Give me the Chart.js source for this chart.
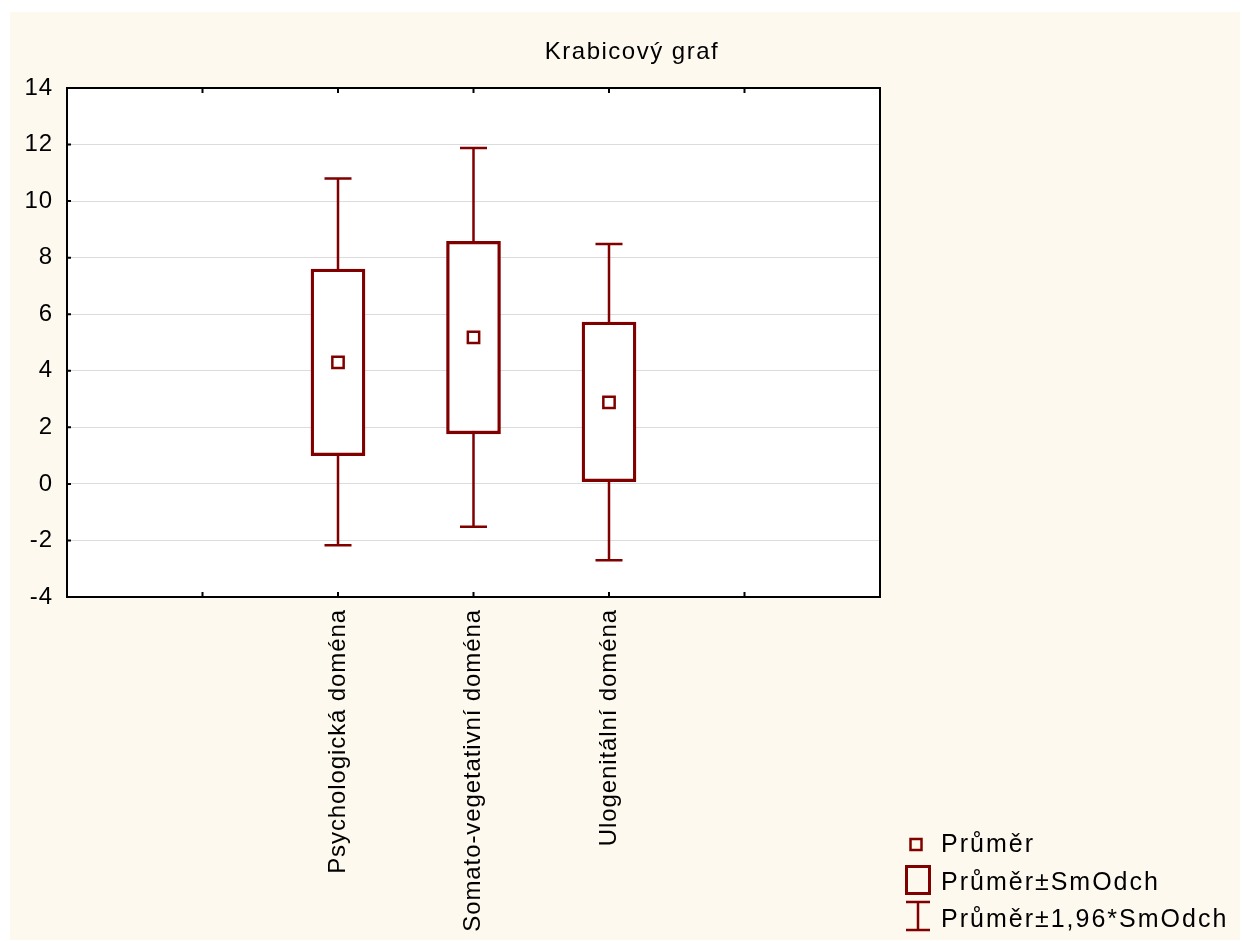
<!DOCTYPE html>
<html>
<head>
<meta charset="utf-8">
<script src="https://cdn.jsdelivr.net/npm/chart.js@4"></script>
<style>
  body { margin: 0; background: #ffffff; }
  #wrap { position: absolute; left: 10px; top: 12px; width: 1230px; height: 928px; background: #fdf9ef; }
</style>
</head>
<body>
<div id="wrap"><canvas id="boxChart" width="1230" height="928"></canvas></div>
<script>
const categories = ["Psychologická doména", "Somato-vegetativní doména", "Ulogenitální doména"];
const catPositions = [2, 3, 4];
const means = [4.3, 5.18, 2.88];
const boxLow = [1.0, 1.77, 0.08];
const boxHigh = [7.6, 8.58, 5.72];
const whiskLow = [-2.17, -1.52, -2.7];
const whiskHigh = [10.8, 11.88, 8.48];
const yTicks = [-4, -2, 0, 2, 4, 6, 8, 10, 12, 14];
const titleText = "Krabicový graf";
const legendLabels = ["Průměr", "Průměr±SmOdch", "Průměr±1,96*SmOdch"];

const dark = "#800000";
const font = "'Liberation Sans', Arial, sans-serif";

const boxData = catPositions.map((x, i) => ({ x: x, y: [boxLow[i], boxHigh[i]] }));
const meanData = catPositions.map((x, i) => ({ x: x, y: means[i] }));

// statistica-like letter spacing for the axis texts
const spacingPlugin = {
    id: "spacing",
    beforeInit(chart) { chart.ctx.letterSpacing = "0.9px"; },
    beforeDraw(chart) { chart.ctx.letterSpacing = "0.9px"; }
};

// whiskers, frame, inward ticks, title and legend
const decorPlugin = {
    id: "decor",
    beforeDraw(chart) {
        const { ctx, chartArea: a } = chart;
        ctx.save();
        ctx.fillStyle = "#ffffff";
        ctx.fillRect(a.left, a.top, a.right - a.left, a.bottom - a.top);
        ctx.restore();
    },
    beforeDatasetsDraw(chart) {
        const { ctx, scales } = chart;
        const xs = scales.x, ys = scales.y;
        ctx.save();
        ctx.strokeStyle = dark;
        ctx.lineWidth = 2.5;
        catPositions.forEach((p, i) => {
            const px = xs.getPixelForValue(p);
            const top = ys.getPixelForValue(whiskHigh[i]);
            const bot = ys.getPixelForValue(whiskLow[i]);
            ctx.beginPath();
            ctx.moveTo(px, top); ctx.lineTo(px, bot);
            ctx.moveTo(px - 13.5, top); ctx.lineTo(px + 13.5, top);
            ctx.moveTo(px - 13.5, bot); ctx.lineTo(px + 13.5, bot);
            ctx.stroke();
        });
        ctx.restore();
    },
    afterDraw(chart) {
        const { ctx, chartArea: a, scales } = chart;
        ctx.save();
        ctx.strokeStyle = "#000";
        ctx.lineWidth = 2;
        ctx.strokeRect(a.left, a.top, a.right - a.left, a.bottom - a.top);
        ctx.beginPath();
        [1, 2, 3, 4, 5].forEach(v => {
            const px = scales.x.getPixelForValue(v);
            ctx.moveTo(px, a.bottom); ctx.lineTo(px, a.bottom - 5);
            ctx.moveTo(px, a.top); ctx.lineTo(px, a.top + 5);
        });
        yTicks.forEach(v => {
            const py = scales.y.getPixelForValue(v);
            ctx.moveTo(a.left, py); ctx.lineTo(a.left + 4, py);
        });
        ctx.stroke();

        ctx.fillStyle = "#000";
        ctx.textBaseline = "middle";

        // title
        ctx.letterSpacing = "1.5px";
        ctx.font = "24px " + font;
        ctx.textAlign = "center";
        ctx.fillText(titleText, 622, 40);

        // legend
        ctx.letterSpacing = "2px";
        ctx.textAlign = "left";
        ctx.font = "25px " + font;
        ctx.strokeStyle = dark;
        ctx.lineWidth = 2.5;
        ctx.strokeRect(900.5, 827, 11, 11);
        ctx.fillText(legendLabels[0], 931, 833);
        ctx.lineWidth = 3;
        ctx.strokeRect(896.5, 854.5, 23, 27);
        ctx.fillText(legendLabels[1], 931, 871);
        ctx.lineWidth = 2.5;
        ctx.beginPath();
        ctx.moveTo(896, 890); ctx.lineTo(920, 890);
        ctx.moveTo(908, 890); ctx.lineTo(908, 918);
        ctx.moveTo(896, 918); ctx.lineTo(920, 918);
        ctx.stroke();
        ctx.fillText(legendLabels[2], 931, 908);
        ctx.restore();
    }
};

new Chart(document.getElementById("boxChart"), {
    type: "bar",
    data: {
        datasets: [
            {
                type: "scatter",
                data: meanData,
                pointStyle: "rect",
                pointRadius: 8,
                borderWidth: 2.5,
                borderColor: dark,
                backgroundColor: "#ffffff",
                order: 0
            },
            {
                type: "bar",
                data: boxData,
                barThickness: 54,
                borderWidth: 3.3,
                borderSkipped: false,
                borderColor: dark,
                backgroundColor: "#ffffff",
                grouped: false,
                order: 1
            }
        ]
    },
    options: {
        responsive: false,
        animation: false,
        layout: { padding: { left: 0, right: 360, top: 76, bottom: 0 } },
        plugins: {
            legend: { display: false },
            tooltip: { enabled: false },
            title: { display: false }
        },
        scales: {
            x: {
                type: "linear",
                min: 0,
                max: 6,
                offset: false,
                afterFit: s => { s.height = 343; },
                afterBuildTicks: s => { s.ticks = [0, 1, 2, 3, 4, 5, 6].map(v => ({ value: v })); },
                grid: { display: false, drawTicks: false, offset: false },
                border: { display: false },
                ticks: {
                    autoSkip: false,
                    minRotation: 90,
                    maxRotation: 90,
                    padding: 12,
                    color: "#000",
                    font: { family: font, size: 24 },
                    callback: v => {
                        const i = catPositions.indexOf(v);
                        return i >= 0 ? categories[i] : "";
                    }
                }
            },
            y: {
                min: -4,
                max: 14,
                afterFit: s => { s.width = 57; },
                afterBuildTicks: s => { s.ticks = yTicks.map(v => ({ value: v })); },
                grid: { color: "#dcdcdc", lineWidth: 1, drawTicks: false },
                border: { display: false },
                ticks: {
                    padding: 14,
                    color: "#000",
                    font: { family: font, size: 24 }
                }
            }
        }
    },
    plugins: [spacingPlugin, decorPlugin]
});
</script>
</body>
</html>
